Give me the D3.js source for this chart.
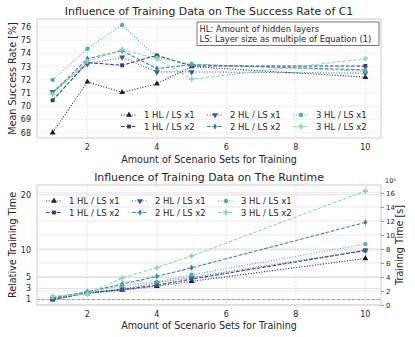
<!DOCTYPE html>
<html>
<head>
<meta charset="utf-8">
<script src="https://cdn.jsdelivr.net/npm/d3@7"></script>
<style>
  body { margin: 0; background: #fff; }
  text { font-family: "DejaVu Sans", sans-serif; fill: #262626; }
</style>
</head>
<body>
<svg id="chart"></svg>
<script>
var W = 415, H = 337;

// ---- data ----
var scenarioSets = [1, 2, 3, 4, 5, 10];
var seriesNames = ['1 HL / LS x1', '1 HL / LS x2', '2 HL / LS x1', '2 HL / LS x2', '3 HL / LS x1', '3 HL / LS x2'];

// mean success rate [%]
var success_1x1 = [68.0, 71.85, 71.05, 71.7, 73.0, 72.2];
var success_1x2 = [70.45, 73.3, 73.1, 73.85, 73.05, 73.05];
var success_2x1 = [71.1, 73.2, 73.7, 72.6, 72.6, 72.5];
var success_2x2 = [71.0, 73.6, 74.2, 72.85, 73.15, 72.75];
var success_3x1 = [72.0, 74.35, 76.15, 73.7, 73.2, 72.65];
var success_3x2 = [70.9, 73.4, 74.3, 73.6, 72.05, 73.6];

// relative training time
var rel_1x1 = [1.0, 2.1, 2.7, 3.4, 4.3, 8.45];
var rel_1x2 = [1.0, 2.2, 2.8, 3.6, 4.7, 9.9];
var rel_2x1 = [1.2, 2.2, 2.9, 4.0, 5.0, 9.95];
var rel_2x2 = [1.3, 2.4, 3.8, 5.2, 6.75, 15.0];
var rel_3x1 = [1.4, 2.3, 3.5, 4.2, 5.5, 11.05];
var rel_3x2 = [1.6, 2.0, 4.9, 6.8, 8.9, 20.7];

var xTicks = [2, 4, 6, 8, 10];
var successTicks = [68, 69, 70, 71, 72, 73, 74, 75, 76];
var relTicks = [1, 3, 5, 10, 20];
var timeTicks = [0, 2, 4, 6, 8, 10, 12, 14, 16];
var secondsPerRel = 0.786; // training time [1e4 s] of one relative unit

var successSeries = [success_1x1, success_1x2, success_2x1, success_2x2, success_3x1, success_3x2];
var relSeries = [rel_1x1, rel_1x2, rel_2x1, rel_2x2, rel_3x1, rel_3x2];

// ---- style ----
var colors = ['#231a33', '#3a3a7a', '#3a5b9e', '#3583ad', '#44b4ad', '#86dab4'];
var symbols = [d3.symbolTriangle, d3.symbolSquare, 'tridown', d3.symbolDiamond, d3.symbolCircle, d3.symbolCross];
var dashes = ['1,1.7', '3.7,1.6', '1,1.7', '3.7,1.6', '1,1.7', '3.7,1.6'];

var svg = d3.select('#chart').attr('width', W).attr('height', H);

var left = 37, right = 381;

function markerPath(i) {
    if (symbols[i] === 'tridown') {
        return d3.symbol().type(d3.symbolTriangle).size(16)();
    }
    var size = symbols[i] === d3.symbolCross ? 16 : (symbols[i] === d3.symbolDiamond ? 12 : 15);
    return d3.symbol().type(symbols[i]).size(size)();
}
function markerRot(i) { return symbols[i] === 'tridown' ? ' rotate(180)' : ''; }

function drawPanel(top, bottom, yDomain) {
    var x = d3.scaleLinear().domain([0.55, 10.45]).range([left, right]);
    var y = d3.scaleLinear().domain(yDomain).range([bottom, top]);
    var g = svg.append('g');

    // vertical grid
    g.selectAll('.vgrid').data(xTicks).enter().append('line')
        .attr('x1', d => x(d)).attr('x2', d => x(d))
        .attr('y1', top).attr('y2', bottom)
        .attr('stroke', '#e3e3e3').attr('stroke-width', 0.8)
        .attr('stroke-dasharray', '2.5,1.5');

    return {x: x, y: y, g: g};
}

function drawSeries(p, series) {
    var line = d3.line().x((d, k) => p.x(scenarioSets[k])).y(d => p.y(d));
    series.forEach(function (vals, i) {
        p.g.append('path')
            .attr('d', line(vals))
            .attr('fill', 'none')
            .attr('stroke', colors[i])
            .attr('stroke-width', 1.05)
            .attr('stroke-dasharray', dashes[i]);
        p.g.selectAll('.m' + i).data(vals).enter().append('path')
            .attr('d', markerPath(i))
            .attr('transform', (d, k) => 'translate(' + p.x(scenarioSets[k]) + ',' + p.y(d) + ')' + markerRot(i))
            .attr('fill', colors[i]);
    });
}

function drawLegend(x0, y0, colStep, rowStep) {
    seriesNames.forEach(function (name, i) {
        var col = Math.floor(i / 2), row = i % 2;
        var lx = x0 + col * colStep, ly = y0 + row * rowStep;
        var lg = svg.append('g');
        lg.append('line')
            .attr('x1', lx).attr('x2', lx + 16).attr('y1', ly).attr('y2', ly)
            .attr('stroke', colors[i]).attr('stroke-width', 1.05)
            .attr('stroke-dasharray', dashes[i]);
        lg.append('path')
            .attr('d', markerPath(i))
            .attr('transform', 'translate(' + (lx + 8) + ',' + ly + ')' + markerRot(i))
            .attr('fill', colors[i]);
        lg.append('text')
            .attr('x', lx + 23).attr('y', ly + 3)
            .attr('font-size', '8.5px')
            .text(name);
    });
}

function frameAndX(p, top, bottom, title, yLabel, xLabelY) {
    p.g.append('rect')
        .attr('x', left).attr('y', top)
        .attr('width', right - left).attr('height', bottom - top)
        .attr('fill', 'none').attr('stroke', '#d6d6d6').attr('stroke-width', 1.2);
    xTicks.forEach(function (t) {
        p.g.append('text')
            .attr('x', p.x(t)).attr('y', bottom + 11.5)
            .attr('text-anchor', 'middle').attr('font-size', '8px')
            .text(t);
    });
    svg.append('text')
        .attr('x', (left + right) / 2).attr('y', xLabelY)
        .attr('text-anchor', 'middle').attr('font-size', '9.6px')
        .text('Amount of Scenario Sets for Training');
    svg.append('text')
        .attr('x', (left + right) / 2).attr('y', top - 4.5)
        .attr('text-anchor', 'middle').attr('font-size', '10.9px')
        .text(title);
    svg.append('text')
        .attr('transform', 'translate(16,' + ((top + bottom) / 2) + ') rotate(-90)')
        .attr('text-anchor', 'middle').attr('font-size', '9.6px')
        .text(yLabel);
}

// ---- top panel: success rate ----
var t1 = 19, b1 = 138;
var p1 = drawPanel(t1, b1, [67.6, 76.6]);
p1.g.selectAll('.hgrid').data(successTicks).enter().append('line')
    .attr('x1', left).attr('x2', right)
    .attr('y1', d => p1.y(d)).attr('y2', d => p1.y(d))
    .attr('stroke', '#e3e3e3').attr('stroke-width', 0.8)
    .attr('stroke-dasharray', '2.5,1.5');
successTicks.forEach(function (t) {
    p1.g.append('text')
        .attr('x', left - 6).attr('y', p1.y(t) + 2.9)
        .attr('text-anchor', 'end').attr('font-size', '8px')
        .text(t);
});
drawSeries(p1, successSeries);
frameAndX(p1, t1, b1, 'Influence of Training Data on The Success Rate of C1', 'Mean Success Rate [%]', 163);

// note box
svg.append('rect')
    .attr('x', 197).attr('y', 22).attr('width', 182).attr('height', 23.5)
    .attr('fill', '#fff').attr('stroke', '#555').attr('stroke-width', 0.8);
svg.append('text').attr('x', 199.5).attr('y', 32).attr('font-size', '8.4px')
    .text('HL: Amount of hidden layers');
svg.append('text').attr('x', 199.5).attr('y', 41.8).attr('font-size', '8.4px')
    .text('LS: Layer size as multiple of Equation (1)');

drawLegend(121, 115, 86, 11.5);

// ---- bottom panel: runtime ----
var t2 = 185, b2 = 305;
var relMax = 21.78;
var p2 = drawPanel(t2, b2, [0, relMax]);
var yTime = d3.scaleLinear().domain([0, relMax * secondsPerRel]).range([b2, t2]);

// horizontal grid from both axes
timeTicks.forEach(function (t) {
    p2.g.append('line')
        .attr('x1', left).attr('x2', right)
        .attr('y1', yTime(t)).attr('y2', yTime(t))
        .attr('stroke', '#e0e0e0').attr('stroke-width', 0.8);
});
relTicks.forEach(function (t) {
    p2.g.append('line')
        .attr('x1', left).attr('x2', right)
        .attr('y1', p2.y(t)).attr('y2', p2.y(t))
        .attr('stroke', '#dadada').attr('stroke-width', 0.8);
    p2.g.append('text')
        .attr('x', left - 6).attr('y', p2.y(t) + 2.9)
        .attr('text-anchor', 'end').attr('font-size', '8px')
        .text(t);
});
// reference line at relative time 1
p2.g.append('line')
    .attr('x1', left).attr('x2', right)
    .attr('y1', p2.y(1)).attr('y2', p2.y(1))
    .attr('stroke', '#999').attr('stroke-width', 0.9)
    .attr('stroke-dasharray', '3,2');

drawSeries(p2, relSeries);
frameAndX(p2, t2, b2, 'Influence of Training Data on The Runtime', 'Relative Training Time', 329);

// right axis (training time in 1e4 s)
var rAxis = d3.axisRight(yTime).tickValues(timeTicks).tickSize(3).tickPadding(2);
var rg = svg.append('g').attr('transform', 'translate(' + right + ',0)').call(rAxis);
rg.select('.domain').remove();
rg.selectAll('line').attr('stroke', '#444').attr('stroke-width', 0.6);
rg.selectAll('text').attr('font-size', '7px').attr('font-family', '"DejaVu Sans", sans-serif').attr('fill', '#262626');
svg.append('text').attr('x', 383).attr('y', 183).attr('font-size', '6.5px').text('·10⁴');
svg.append('text')
    .attr('transform', 'translate(403,' + ((t2 + b2) / 2) + ') rotate(-90)')
    .attr('text-anchor', 'middle').attr('font-size', '9.6px')
    .text('Training Time [s]');

drawLegend(46, 201, 86, 11.5);
</script>
</body>
</html>
